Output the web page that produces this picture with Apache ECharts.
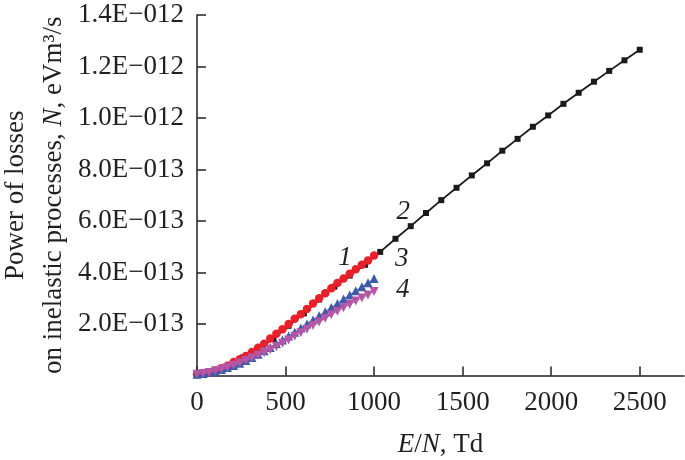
<!DOCTYPE html>
<html>
<head>
<meta charset="utf-8">
<script src="https://cdn.jsdelivr.net/npm/echarts@6/dist/echarts.min.js"></script>
<style>
html,body{margin:0;padding:0;background:#fff;}
#chart{width:685px;height:460px;}
</style>
</head>
<body>
<div id="chart"></div>
<script>
// ---- Data (values in units of 1e-13 eV m^3/s) ----
const xTicks = [0, 500, 1000, 1500, 2000, 2500];
const yTicks = [2e-13, 4e-13, 6e-13, 8e-13, 1.0e-12, 1.2e-12, 1.4e-12];

// E/N points, Td
const xShort = [0, 34.5, 69, 103.4, 137.9, 172.4, 206.9, 241.4, 275.9, 310.3, 344.8, 379.3, 413.8, 448.3, 482.8,
  517.2, 551.7, 586.2, 620.7, 655.2, 689.7, 724.1, 758.6, 793.1, 827.6, 862.1, 896.6, 931.0, 965.5, 1000];
const xLong = [0, 86.2, 172.4, 258.6, 344.8, 431.0, 517.2, 603.4, 689.7, 775.9, 862.1, 948.3, 1034.5, 1120.7, 1206.9,
  1293.1, 1379.3, 1465.5, 1551.7, 1637.9, 1724.1, 1810.3, 1896.6, 1982.8, 2069.0, 2155.2, 2241.4, 2327.6, 2413.8, 2500];

const curve1 = [0.05, 0.08, 0.13, 0.19, 0.28, 0.38, 0.52, 0.63, 0.76, 0.91, 1.08, 1.23, 1.44, 1.62, 1.80,
  2.00, 2.20, 2.38, 2.58, 2.80, 3.00, 3.19, 3.39, 3.59, 3.77, 3.95, 4.13, 4.30, 4.47, 4.66];
const curve2 = [0.05, 0.15, 0.36, 0.70, 1.04, 1.42, 1.93, 2.41, 2.95, 3.45, 3.88, 4.30, 4.80, 5.31, 5.80,
  6.31, 6.81, 7.29, 7.77, 8.24, 8.73, 9.19, 9.66, 10.10, 10.55, 10.98, 11.41, 11.83, 12.24, 12.65];
const curve3 = [0.05, 0.08, 0.12, 0.17, 0.23, 0.31, 0.39, 0.48, 0.58, 0.70, 0.83, 0.96, 1.09, 1.24, 1.38,
  1.53, 1.68, 1.84, 2.00, 2.16, 2.32, 2.48, 2.64, 2.80, 2.97, 3.13, 3.29, 3.45, 3.60, 3.77];
const curve4 = [0.05, 0.08, 0.12, 0.17, 0.24, 0.31, 0.40, 0.49, 0.58, 0.68, 0.79, 0.89, 1.00, 1.12, 1.25,
  1.38, 1.52, 1.66, 1.80, 1.94, 2.08, 2.22, 2.36, 2.50, 2.63, 2.76, 2.89, 3.01, 3.13, 3.26];

// curve labels: [E/N, value(1e-13), text]
const curveLabels = [[836, 4.58, '1'], [1164, 6.37, '2'], [1156, 4.54, '3'], [1162, 3.34, '4']];

const UNIT = 1e-13;
function pairs(xs, ys) { return xs.map((x, i) => [x, ys[i] * UNIT]); }

const FONT = "'Liberation Serif', 'Times New Roman', serif";
const FS = 27;
const TXT = '#231f20';

function fmtY(v) {
  if (Math.abs(v) < 1e-20) return '';
  const s = v.toExponential(1);
  const m = s.split('e');
  let exp = parseInt(m[1], 10);
  const sign = exp < 0 ? '\u2212' : '+';
  exp = Math.abs(exp);
  return m[0] + 'E' + sign + String(exp).padStart(3, '0');
}

const chart = echarts.init(document.getElementById('chart'), null, { renderer: 'canvas' });
chart.setOption({
  animation: false,
  backgroundColor: '#ffffff',
  grid: { left: 197, right: 1, top: 15, bottom: 84.5, containLabel: false, outerBoundsMode: 'none' },
  xAxis: {
    type: 'value', min: 0, max: 2750, interval: 500,
    name: '{i|E}{n|/}{i|N}{n|, Td}',
    nameLocation: 'middle', nameGap: 56,
    nameTextStyle: {
      rich: {
        i: { fontFamily: FONT, fontStyle: 'italic', fontSize: FS, color: TXT },
        n: { fontFamily: FONT, fontSize: FS, color: TXT }
      }
    },
    splitLine: { show: false },
    axisLine: { lineStyle: { color: TXT, width: 1.5 } },
    axisTick: { inside: true, length: 9, lineStyle: { color: TXT, width: 1.5 }, customValues: xTicks },
    axisLabel: {
      customValues: xTicks,
      margin: 14, fontFamily: FONT, fontSize: FS, color: TXT,
      formatter: v => (xTicks.indexOf(v) >= 0 ? String(v) : '')
    }
  },
  yAxis: {
    type: 'value', min: 0, max: 1.4e-12, interval: 2e-13,
    name: '{n|Power of losses}\n{n|on inelastic processes, }{i|N}{n|, eVm\u00b3/s}',
    nameLocation: 'middle', nameGap: 124, nameRotate: 90,
    nameTextStyle: {
      rich: {
        i: { fontFamily: FONT, fontStyle: 'italic', fontSize: FS, color: TXT, lineHeight: 38 },
        n: { fontFamily: FONT, fontSize: FS, color: TXT, lineHeight: 38 }
      }
    },
    splitLine: { show: false },
    axisLine: { lineStyle: { color: TXT, width: 1.5 } },
    axisTick: { inside: true, length: 9, lineStyle: { color: TXT, width: 1.5 } },
    axisLabel: { margin: 13, fontFamily: FONT, fontSize: FS, color: TXT, formatter: fmtY }
  },
  series: [
    {
      name: '2', type: 'line', data: pairs(xLong, curve2),
      symbol: 'rect', symbolSize: 6, showAllSymbol: true,
      lineStyle: { color: '#1a1a1a', width: 1.8 }, itemStyle: { color: '#1a1a1a' }, z: 2
    },
    {
      name: '1', type: 'line', data: pairs(xShort, curve1),
      symbol: 'circle', symbolSize: 8.5, showAllSymbol: true,
      lineStyle: { color: '#e8202a', width: 1 }, itemStyle: { color: '#e8202a' }, z: 3
    },
    {
      name: '3', type: 'line', data: pairs(xShort, curve3),
      symbol: 'triangle', symbolSize: 9, showAllSymbol: true,
      lineStyle: { color: '#3c5aa8', width: 1 }, itemStyle: { color: '#3c5aa8' }, z: 4
    },
    {
      name: '4', type: 'line', data: pairs(xShort, curve4),
      symbol: 'triangle', symbolRotate: 180, symbolSize: 9, showAllSymbol: true,
      lineStyle: { color: '#b455a6', width: 1 }, itemStyle: { color: '#b455a6' }, z: 5
    },
    {
      name: 'labels', type: 'scatter', silent: true, z: 10,
      data: curveLabels.map(l => [l[0], l[1] * UNIT, l[2]]),
      symbol: 'circle', symbolSize: 0, itemStyle: { color: TXT },
      label: {
        show: true, position: 'inside', formatter: p => p.data[2], opacity: 1,
        fontFamily: FONT, fontStyle: 'italic', fontSize: FS, color: TXT,
        textBorderWidth: 0
      }
    }
  ]
});
</script>
</body>
</html>
